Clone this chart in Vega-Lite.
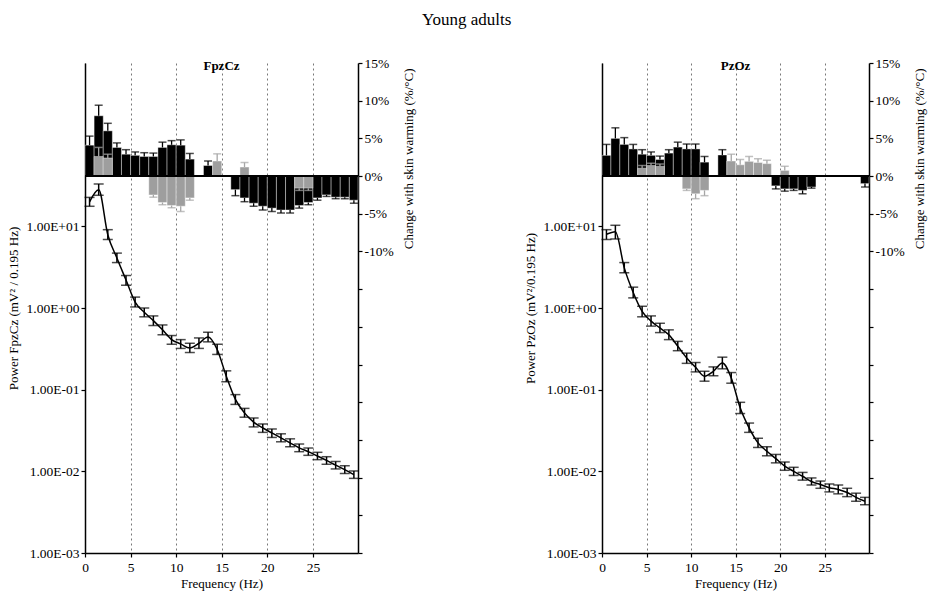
{
  "$schema": "https://vega.github.io/schema/vega-lite/v6.json",
  "padding": {"left": 7, "top": 11, "right": 2, "bottom": 2},
  "title": {"text": "Young adults", "font": "Liberation Serif", "fontSize": 17, "fontWeight": "normal", "color": "black", "anchor": "middle", "offset": 27},
  "spacing": 108,
  "config": {
    "view": {"stroke": null},
    "font": "Liberation Serif",
    "axis": {"labelFont": "Liberation Serif", "titleFont": "Liberation Serif", "labelFontSize": 13.5, "titleFontSize": 13, "titleFontWeight": "normal", "labelColor": "black", "titleColor": "black", "domainColor": "black", "tickColor": "black", "domainWidth": 1.5, "tickWidth": 1.2, "tickSize": 4, "grid": false, "labelOverlap": false, "labelFlush": false},
    "title": {"font": "Liberation Serif", "color": "black"}
  },
  "datasets": {
    "powerF": [
      {"f":0.5,"p":19.9,"lo":17.6,"hi":22.6},{"f":1.5,"p":28,"lo":24,"hi":33},{"f":2.5,"p":7.9,"lo":6.9,"hi":9.1},{"f":3.5,"p":4.1,"lo":3.6,"hi":4.7},{"f":4.5,"p":2.2,"lo":1.9,"hi":2.5},{"f":5.5,"p":1.18,"lo":1.03,"hi":1.36},{"f":6.5,"p":0.885,"lo":0.78,"hi":1.0},{"f":7.5,"p":0.7,"lo":0.61,"hi":0.8},{"f":8.5,"p":0.54,"lo":0.47,"hi":0.62},{"f":9.5,"p":0.41,"lo":0.36,"hi":0.46},{"f":10.5,"p":0.363,"lo":0.32,"hi":0.41},{"f":11.5,"p":0.324,"lo":0.285,"hi":0.37},{"f":12.5,"p":0.37,"lo":0.32,"hi":0.43},{"f":13.5,"p":0.44,"lo":0.385,"hi":0.505},{"f":14.5,"p":0.31,"lo":0.27,"hi":0.36},{"f":15.5,"p":0.146,"lo":0.125,"hi":0.17},{"f":16.5,"p":0.076,"lo":0.066,"hi":0.087},{"f":17.5,"p":0.052,"lo":0.046,"hi":0.059},{"f":18.5,"p":0.04,"lo":0.035,"hi":0.045},{"f":19.5,"p":0.034,"lo":0.03,"hi":0.038},{"f":20.5,"p":0.0295,"lo":0.026,"hi":0.033},{"f":21.5,"p":0.0257,"lo":0.023,"hi":0.0288},{"f":22.5,"p":0.0223,"lo":0.02,"hi":0.025},{"f":23.5,"p":0.0194,"lo":0.0174,"hi":0.0216},{"f":24.5,"p":0.0174,"lo":0.0157,"hi":0.0193},{"f":25.5,"p":0.0154,"lo":0.0139,"hi":0.0171},{"f":26.5,"p":0.0136,"lo":0.0122,"hi":0.0151},{"f":27.5,"p":0.0119,"lo":0.0107,"hi":0.0132},{"f":28.5,"p":0.0105,"lo":0.0094,"hi":0.0117},{"f":29.5,"p":0.0091,"lo":0.0082,"hi":0.0101}
    ],
    "powerP": [
      {"f":0.5,"p":8.0,"lo":6.9,"hi":9.1},{"f":1.5,"p":8.6,"lo":7.0,"hi":10.3},{"f":2.5,"p":3.1,"lo":2.7,"hi":3.6},{"f":3.5,"p":1.55,"lo":1.33,"hi":1.8},{"f":4.5,"p":0.91,"lo":0.78,"hi":1.05},{"f":5.5,"p":0.69,"lo":0.6,"hi":0.8},{"f":6.5,"p":0.57,"lo":0.5,"hi":0.65},{"f":7.5,"p":0.47,"lo":0.41,"hi":0.54},{"f":8.5,"p":0.34,"lo":0.3,"hi":0.39},{"f":9.5,"p":0.244,"lo":0.21,"hi":0.28},{"f":10.5,"p":0.188,"lo":0.165,"hi":0.215},{"f":11.5,"p":0.146,"lo":0.127,"hi":0.168},{"f":12.5,"p":0.168,"lo":0.148,"hi":0.19},{"f":13.5,"p":0.212,"lo":0.18,"hi":0.25},{"f":14.5,"p":0.139,"lo":0.12,"hi":0.162},{"f":15.5,"p":0.06,"lo":0.051,"hi":0.07},{"f":16.5,"p":0.034,"lo":0.03,"hi":0.039},{"f":17.5,"p":0.0223,"lo":0.0196,"hi":0.0254},{"f":18.5,"p":0.0176,"lo":0.0155,"hi":0.02},{"f":19.5,"p":0.0143,"lo":0.0127,"hi":0.0161},{"f":20.5,"p":0.0116,"lo":0.0103,"hi":0.013},{"f":21.5,"p":0.01,"lo":0.0089,"hi":0.0112},{"f":22.5,"p":0.0087,"lo":0.0078,"hi":0.0097},{"f":23.5,"p":0.0075,"lo":0.0068,"hi":0.0083},{"f":24.5,"p":0.0069,"lo":0.0062,"hi":0.0076},{"f":25.5,"p":0.0063,"lo":0.0056,"hi":0.007},{"f":26.5,"p":0.006,"lo":0.0053,"hi":0.0068},{"f":27.5,"p":0.0055,"lo":0.0049,"hi":0.0062},{"f":28.5,"p":0.0048,"lo":0.0043,"hi":0.0054},{"f":29.5,"p":0.0043,"lo":0.0039,"hi":0.0048}
    ],
    "barsF": [
      {"s":"k","f0":0,"f1":1,"f":0.5,"v":4.1,"e":5.3},{"s":"k","f0":1,"f1":2,"f":1.5,"v":8.0,"e":9.4},{"s":"k","f0":2,"f1":3,"f":2.5,"v":6.0,"e":7.0},{"s":"k","f0":3,"f1":4,"f":3.5,"v":3.8,"e":4.4},{"s":"k","f0":4,"f1":5,"f":4.5,"v":2.9,"e":3.5},{"s":"k","f0":5,"f1":6,"f":5.5,"v":2.75,"e":3.2},{"s":"k","f0":6,"f1":7,"f":6.5,"v":2.6,"e":3.1},{"s":"k","f0":7,"f1":8,"f":7.5,"v":2.6,"e":3.05},{"s":"k","f0":8,"f1":9,"f":8.5,"v":3.8,"e":4.5},{"s":"k","f0":9,"f1":10,"f":9.5,"v":4.15,"e":4.7},{"s":"k","f0":10,"f1":11,"f":10.5,"v":4.1,"e":4.8},{"s":"k","f0":11,"f1":12,"f":11.5,"v":2.25,"e":3.0},{"s":"k","f0":13,"f1":14,"f":13.5,"v":1.4,"e":2.0},{"s":"k","f0":16,"f1":17,"f":16.5,"v":-1.8,"e":-2.6},{"s":"k","f0":17,"f1":18,"f":17.5,"v":-2.9,"e":-3.4},{"s":"k","f0":18,"f1":19,"f":18.5,"v":-3.6,"e":-4.0},{"s":"k","f0":19,"f1":20,"f":19.5,"v":-4.0,"e":-4.5},{"s":"k","f0":20,"f1":21,"f":20.5,"v":-4.25,"e":-4.7},{"s":"k","f0":21,"f1":22,"f":21.5,"v":-4.5,"e":-4.9},{"s":"k","f0":22,"f1":23,"f":22.5,"v":-4.5,"e":-4.9},{"s":"k","f0":23,"f1":24,"f":23.5,"v":-3.9,"e":-4.25},{"s":"k","f0":24,"f1":25,"f":24.5,"v":-3.5,"e":-3.8},{"s":"k","f0":25,"f1":26,"f":25.5,"v":-2.9,"e":-3.2},{"s":"k","f0":26,"f1":27,"f":26.5,"v":-2.5,"e":-2.7},{"s":"k","f0":27,"f1":28,"f":27.5,"v":-2.8,"e":-3.0},{"s":"k","f0":28,"f1":29,"f":28.5,"v":-2.8,"e":-3.0},{"s":"k","f0":29,"f1":29.95,"f":29.5,"v":-3.2,"e":-3.6},
      {"s":"g","f0":1,"f1":2,"f":1.5,"v":2.6,"e":3.8},{"s":"g","f0":2,"f1":3,"f":2.5,"v":2.4,"e":2.9},{"s":"g","f0":7,"f1":8,"f":7.5,"v":-2.5,"e":-2.8},{"s":"g","f0":8,"f1":9,"f":8.5,"v":-3.5,"e":-3.8},{"s":"g","f0":9,"f1":10,"f":9.5,"v":-3.9,"e":-4.2},{"s":"g","f0":10,"f1":11,"f":10.5,"v":-4.0,"e":-4.7},{"s":"g","f0":11,"f1":12,"f":11.5,"v":-2.9,"e":-3.2},{"s":"g","f0":14,"f1":15,"f":14.5,"v":2.0,"e":2.95},{"s":"g","f0":17,"f1":18,"f":17.5,"v":1.2,"e":1.8},{"s":"g","f0":23,"f1":24,"f":23.5,"v":-1.6,"e":-1.9},{"s":"g","f0":24,"f1":25,"f":24.5,"v":-1.6,"e":-1.9}
    ],
    "barsP": [
      {"s":"k","f0":0,"f1":1,"f":0.5,"v":2.75,"e":4.2},{"s":"k","f0":1,"f1":2,"f":1.5,"v":5.0,"e":6.4},{"s":"k","f0":2,"f1":3,"f":2.5,"v":4.2,"e":5.1},{"s":"k","f0":3,"f1":4,"f":3.5,"v":3.6,"e":4.2},{"s":"k","f0":4,"f1":5,"f":4.5,"v":2.9,"e":3.5},{"s":"k","f0":5,"f1":6,"f":5.5,"v":2.75,"e":3.2},{"s":"k","f0":6,"f1":7,"f":6.5,"v":2.2,"e":2.65},{"s":"k","f0":7,"f1":8,"f":7.5,"v":3.05,"e":3.5},{"s":"k","f0":8,"f1":9,"f":8.5,"v":3.85,"e":4.5},{"s":"k","f0":9,"f1":10,"f":9.5,"v":3.6,"e":4.25},{"s":"k","f0":10,"f1":11,"f":10.5,"v":3.6,"e":4.25},{"s":"k","f0":11,"f1":12,"f":11.5,"v":1.85,"e":2.6},{"s":"k","f0":13,"f1":14,"f":13.5,"v":2.8,"e":3.5},{"s":"k","f0":19,"f1":20,"f":19.5,"v":-1.3,"e":-1.7},{"s":"k","f0":20,"f1":21,"f":20.5,"v":-1.7,"e":-2.0},{"s":"k","f0":21,"f1":22,"f":21.5,"v":-1.7,"e":-1.9},{"s":"k","f0":22,"f1":23,"f":22.5,"v":-1.9,"e":-2.35},{"s":"k","f0":23,"f1":24,"f":23.5,"v":-1.45,"e":-1.6},{"s":"k","f0":29,"f1":29.95,"f":29.5,"v":-1.0,"e":-1.45},
      {"s":"g","f0":4,"f1":5,"f":4.5,"v":1.05,"e":1.4},{"s":"g","f0":5,"f1":6,"f":5.5,"v":1.4,"e":1.7},{"s":"g","f0":6,"f1":7,"f":6.5,"v":1.3,"e":1.6},{"s":"g","f0":9,"f1":10,"f":9.5,"v":-1.7,"e":-1.9},{"s":"g","f0":10,"f1":11,"f":10.5,"v":-2.35,"e":-3.0},{"s":"g","f0":11,"f1":12,"f":11.5,"v":-1.9,"e":-2.6},{"s":"g","f0":14,"f1":15,"f":14.5,"v":2.0,"e":2.9},{"s":"g","f0":15,"f1":16,"f":15.5,"v":1.5,"e":2.2},{"s":"g","f0":16,"f1":17,"f":16.5,"v":1.95,"e":2.6},{"s":"g","f0":17,"f1":18,"f":17.5,"v":1.8,"e":2.3},{"s":"g","f0":18,"f1":19,"f":18.5,"v":1.65,"e":2.1},{"s":"g","f0":20,"f1":21,"f":20.5,"v":0.75,"e":1.3}
    ]
  },
  "hconcat": [
    {
      "width": 273, "height": 490,
      "title": {"text": "FpzCz", "fontSize": 13, "fontWeight": "bold", "offset": -17},
      "layer": [
        {
          "data": {"name": "powerF"},
          "encoding": {"x": {"field": "f", "type": "quantitative", "scale": {"domain": [0, 29.95], "nice": false, "zero": false}, "axis": {"title": "Frequency (Hz)", "values": [0,5,10,15,20,25], "grid": true, "gridDash": [2,3], "gridColor": "#555555", "gridWidth": 0.8, "labelPadding": 3, "titlePadding": 4}}},
          "layer": [
            {"mark": {"type": "line", "interpolate": "monotone", "color": "black", "strokeWidth": 1.5},
             "encoding": {"y": {"field": "p", "type": "quantitative", "scale": {"type": "log", "domain": [0.001, 1000], "nice": false}, "axis": {"orient": "left", "title": "Power FpzCz (mV² / 0.195 Hz)", "values": [0.001, 0.01, 0.1, 1, 10], "labelExpr": "'1.00E' + (datum.value >= 1 ? '+' : '-') + '0' + abs(round(log(datum.value)/LN10))", "titlePadding": 6}}}},
            {"mark": {"type": "rule", "color": "black", "strokeWidth": 1.5},
             "encoding": {"y": {"field": "lo", "type": "quantitative", "axis": {"orient": "left", "title": "Power FpzCz (mV² / 0.195 Hz)", "values": [0.001, 0.01, 0.1, 1, 10], "labelExpr": "'1.00E' + (datum.value >= 1 ? '+' : '-') + '0' + abs(round(log(datum.value)/LN10))", "titlePadding": 6}}, "y2": {"field": "hi"}}},
            {"mark": {"type": "tick", "orient": "horizontal", "color": "black", "size": 10, "thickness": 1.5},
             "encoding": {"y": {"field": "lo", "type": "quantitative", "axis": {"orient": "left", "title": "Power FpzCz (mV² / 0.195 Hz)", "values": [0.001, 0.01, 0.1, 1, 10], "labelExpr": "'1.00E' + (datum.value >= 1 ? '+' : '-') + '0' + abs(round(log(datum.value)/LN10))", "titlePadding": 6}}}},
            {"mark": {"type": "tick", "orient": "horizontal", "color": "black", "size": 10, "thickness": 1.5},
             "encoding": {"y": {"field": "hi", "type": "quantitative", "axis": {"orient": "left", "title": "Power FpzCz (mV² / 0.195 Hz)", "values": [0.001, 0.01, 0.1, 1, 10], "labelExpr": "'1.00E' + (datum.value >= 1 ? '+' : '-') + '0' + abs(round(log(datum.value)/LN10))", "titlePadding": 6}}}}
          ]
        },
        {
          "data": {"name": "barsF"},
          "layer": [
            {"transform": [{"filter": "datum.s == 'k'"}], "mark": {"type": "bar", "color": "black", "stroke": "#ffffff", "strokeWidth": 0.4},
             "encoding": {"x": {"field": "f0", "type": "quantitative", "axis": {"title": "Frequency (Hz)"}}, "x2": {"field": "f1"}, "y": {"field": "v", "type": "quantitative", "scale": {"domain": [-50, 15], "nice": false}, "axis": {"orient": "right", "title": "Change with skin warming (%/°C)", "values": [-50,-45,-40,-35,-30,-25,-20,-15,-10,-5,0,5,10,15], "labelExpr": "datum.value >= -10 ? datum.value + '%' : ''", "titleAngle": -90, "titleAlign": "right", "titleBaseline": "top", "titleY": 5, "titlePadding": 9}}, "y2": {"datum": 0}}},
            {"transform": [{"filter": "datum.s == 'k'"}], "mark": {"type": "rule", "color": "black", "strokeWidth": 1.3},
             "encoding": {"x": {"field": "f", "type": "quantitative", "axis": {"title": "Frequency (Hz)"}}, "y": {"field": "v", "type": "quantitative", "axis": {"orient": "right", "title": "Change with skin warming (%/°C)", "values": [-50,-45,-40,-35,-30,-25,-20,-15,-10,-5,0,5,10,15], "labelExpr": "datum.value >= -10 ? datum.value + '%' : ''", "titleAngle": -90, "titleAlign": "right", "titleBaseline": "top", "titleY": 5, "titlePadding": 9}}, "y2": {"field": "e"}}},
            {"transform": [{"filter": "datum.s == 'k'"}], "mark": {"type": "tick", "orient": "horizontal", "color": "black", "size": 8, "thickness": 1.5},
             "encoding": {"x": {"field": "f", "type": "quantitative", "axis": {"title": "Frequency (Hz)"}}, "y": {"field": "e", "type": "quantitative", "axis": {"orient": "right", "title": "Change with skin warming (%/°C)", "values": [-50,-45,-40,-35,-30,-25,-20,-15,-10,-5,0,5,10,15], "labelExpr": "datum.value >= -10 ? datum.value + '%' : ''", "titleAngle": -90, "titleAlign": "right", "titleBaseline": "top", "titleY": 5, "titlePadding": 9}}}},
            {"transform": [{"filter": "datum.s == 'g'"}], "mark": {"type": "bar", "color": "#9e9e9e", "stroke": "#ffffff", "strokeWidth": 0.4},
             "encoding": {"x": {"field": "f0", "type": "quantitative", "axis": {"title": "Frequency (Hz)"}}, "x2": {"field": "f1"}, "y": {"field": "v", "type": "quantitative", "axis": {"orient": "right", "title": "Change with skin warming (%/°C)", "values": [-50,-45,-40,-35,-30,-25,-20,-15,-10,-5,0,5,10,15], "labelExpr": "datum.value >= -10 ? datum.value + '%' : ''", "titleAngle": -90, "titleAlign": "right", "titleBaseline": "top", "titleY": 5, "titlePadding": 9}}, "y2": {"datum": 0}}},
            {"transform": [{"filter": "datum.s == 'g'"}], "mark": {"type": "rule", "color": "#a6a6a6", "strokeWidth": 1.3},
             "encoding": {"x": {"field": "f", "type": "quantitative", "axis": {"title": "Frequency (Hz)"}}, "y": {"field": "v", "type": "quantitative", "axis": {"orient": "right", "title": "Change with skin warming (%/°C)", "values": [-50,-45,-40,-35,-30,-25,-20,-15,-10,-5,0,5,10,15], "labelExpr": "datum.value >= -10 ? datum.value + '%' : ''", "titleAngle": -90, "titleAlign": "right", "titleBaseline": "top", "titleY": 5, "titlePadding": 9}}, "y2": {"field": "e"}}},
            {"transform": [{"filter": "datum.s == 'g'"}], "mark": {"type": "tick", "orient": "horizontal", "color": "#a6a6a6", "size": 8, "thickness": 1.5},
             "encoding": {"x": {"field": "f", "type": "quantitative", "axis": {"title": "Frequency (Hz)"}}, "y": {"field": "e", "type": "quantitative", "axis": {"orient": "right", "title": "Change with skin warming (%/°C)", "values": [-50,-45,-40,-35,-30,-25,-20,-15,-10,-5,0,5,10,15], "labelExpr": "datum.value >= -10 ? datum.value + '%' : ''", "titleAngle": -90, "titleAlign": "right", "titleBaseline": "top", "titleY": 5, "titlePadding": 9}}}},
            {"mark": {"type": "rule", "color": "black", "strokeWidth": 1.5},
             "encoding": {"y": {"datum": 0, "type": "quantitative", "axis": {"orient": "right", "title": "Change with skin warming (%/°C)", "values": [-50,-45,-40,-35,-30,-25,-20,-15,-10,-5,0,5,10,15], "labelExpr": "datum.value >= -10 ? datum.value + '%' : ''", "titleAngle": -90, "titleAlign": "right", "titleBaseline": "top", "titleY": 5, "titlePadding": 9}}}}
          ]
        }
      ],
      "resolve": {"scale": {"y": "independent"}}
    },
    {
      "width": 267, "height": 490,
      "title": {"text": "PzOz", "fontSize": 13, "fontWeight": "bold", "offset": -17},
      "layer": [
        {
          "data": {"name": "powerP"},
          "encoding": {"x": {"field": "f", "type": "quantitative", "scale": {"domain": [0, 29.95], "nice": false, "zero": false}, "axis": {"title": "Frequency (Hz)", "values": [0,5,10,15,20,25], "grid": true, "gridDash": [2,3], "gridColor": "#555555", "gridWidth": 0.8, "labelPadding": 3, "titlePadding": 4}}},
          "layer": [
            {"mark": {"type": "line", "interpolate": "monotone", "color": "black", "strokeWidth": 1.5},
             "encoding": {"y": {"field": "p", "type": "quantitative", "scale": {"type": "log", "domain": [0.001, 1000], "nice": false}, "axis": {"orient": "left", "title": "Power PzOz (mV²/0.195 Hz)", "values": [0.001, 0.01, 0.1, 1, 10], "labelExpr": "'1.00E' + (datum.value >= 1 ? '+' : '-') + '0' + abs(round(log(datum.value)/LN10))", "titlePadding": 6}}}},
            {"mark": {"type": "rule", "color": "black", "strokeWidth": 1.5},
             "encoding": {"y": {"field": "lo", "type": "quantitative", "axis": {"orient": "left", "title": "Power PzOz (mV²/0.195 Hz)", "values": [0.001, 0.01, 0.1, 1, 10], "labelExpr": "'1.00E' + (datum.value >= 1 ? '+' : '-') + '0' + abs(round(log(datum.value)/LN10))", "titlePadding": 6}}, "y2": {"field": "hi"}}},
            {"mark": {"type": "tick", "orient": "horizontal", "color": "black", "size": 10, "thickness": 1.5},
             "encoding": {"y": {"field": "lo", "type": "quantitative", "axis": {"orient": "left", "title": "Power PzOz (mV²/0.195 Hz)", "values": [0.001, 0.01, 0.1, 1, 10], "labelExpr": "'1.00E' + (datum.value >= 1 ? '+' : '-') + '0' + abs(round(log(datum.value)/LN10))", "titlePadding": 6}}}},
            {"mark": {"type": "tick", "orient": "horizontal", "color": "black", "size": 10, "thickness": 1.5},
             "encoding": {"y": {"field": "hi", "type": "quantitative", "axis": {"orient": "left", "title": "Power PzOz (mV²/0.195 Hz)", "values": [0.001, 0.01, 0.1, 1, 10], "labelExpr": "'1.00E' + (datum.value >= 1 ? '+' : '-') + '0' + abs(round(log(datum.value)/LN10))", "titlePadding": 6}}}}
          ]
        },
        {
          "data": {"name": "barsP"},
          "layer": [
            {"transform": [{"filter": "datum.s == 'k'"}], "mark": {"type": "bar", "color": "black", "stroke": "#ffffff", "strokeWidth": 0.4},
             "encoding": {"x": {"field": "f0", "type": "quantitative", "axis": {"title": "Frequency (Hz)"}}, "x2": {"field": "f1"}, "y": {"field": "v", "type": "quantitative", "scale": {"domain": [-50, 15], "nice": false}, "axis": {"orient": "right", "title": "Change with skin warming (%/°C)", "values": [-50,-45,-40,-35,-30,-25,-20,-15,-10,-5,0,5,10,15], "labelExpr": "datum.value >= -10 ? datum.value + '%' : ''", "titleAngle": -90, "titleAlign": "right", "titleBaseline": "top", "titleY": 5, "titlePadding": 9}}, "y2": {"datum": 0}}},
            {"transform": [{"filter": "datum.s == 'k'"}], "mark": {"type": "rule", "color": "black", "strokeWidth": 1.3},
             "encoding": {"x": {"field": "f", "type": "quantitative", "axis": {"title": "Frequency (Hz)"}}, "y": {"field": "v", "type": "quantitative", "axis": {"orient": "right", "title": "Change with skin warming (%/°C)", "values": [-50,-45,-40,-35,-30,-25,-20,-15,-10,-5,0,5,10,15], "labelExpr": "datum.value >= -10 ? datum.value + '%' : ''", "titleAngle": -90, "titleAlign": "right", "titleBaseline": "top", "titleY": 5, "titlePadding": 9}}, "y2": {"field": "e"}}},
            {"transform": [{"filter": "datum.s == 'k'"}], "mark": {"type": "tick", "orient": "horizontal", "color": "black", "size": 8, "thickness": 1.5},
             "encoding": {"x": {"field": "f", "type": "quantitative", "axis": {"title": "Frequency (Hz)"}}, "y": {"field": "e", "type": "quantitative", "axis": {"orient": "right", "title": "Change with skin warming (%/°C)", "values": [-50,-45,-40,-35,-30,-25,-20,-15,-10,-5,0,5,10,15], "labelExpr": "datum.value >= -10 ? datum.value + '%' : ''", "titleAngle": -90, "titleAlign": "right", "titleBaseline": "top", "titleY": 5, "titlePadding": 9}}}},
            {"transform": [{"filter": "datum.s == 'g'"}], "mark": {"type": "bar", "color": "#9e9e9e", "stroke": "#ffffff", "strokeWidth": 0.4},
             "encoding": {"x": {"field": "f0", "type": "quantitative", "axis": {"title": "Frequency (Hz)"}}, "x2": {"field": "f1"}, "y": {"field": "v", "type": "quantitative", "axis": {"orient": "right", "title": "Change with skin warming (%/°C)", "values": [-50,-45,-40,-35,-30,-25,-20,-15,-10,-5,0,5,10,15], "labelExpr": "datum.value >= -10 ? datum.value + '%' : ''", "titleAngle": -90, "titleAlign": "right", "titleBaseline": "top", "titleY": 5, "titlePadding": 9}}, "y2": {"datum": 0}}},
            {"transform": [{"filter": "datum.s == 'g'"}], "mark": {"type": "rule", "color": "#a6a6a6", "strokeWidth": 1.3},
             "encoding": {"x": {"field": "f", "type": "quantitative", "axis": {"title": "Frequency (Hz)"}}, "y": {"field": "v", "type": "quantitative", "axis": {"orient": "right", "title": "Change with skin warming (%/°C)", "values": [-50,-45,-40,-35,-30,-25,-20,-15,-10,-5,0,5,10,15], "labelExpr": "datum.value >= -10 ? datum.value + '%' : ''", "titleAngle": -90, "titleAlign": "right", "titleBaseline": "top", "titleY": 5, "titlePadding": 9}}, "y2": {"field": "e"}}},
            {"transform": [{"filter": "datum.s == 'g'"}], "mark": {"type": "tick", "orient": "horizontal", "color": "#a6a6a6", "size": 8, "thickness": 1.5},
             "encoding": {"x": {"field": "f", "type": "quantitative", "axis": {"title": "Frequency (Hz)"}}, "y": {"field": "e", "type": "quantitative", "axis": {"orient": "right", "title": "Change with skin warming (%/°C)", "values": [-50,-45,-40,-35,-30,-25,-20,-15,-10,-5,0,5,10,15], "labelExpr": "datum.value >= -10 ? datum.value + '%' : ''", "titleAngle": -90, "titleAlign": "right", "titleBaseline": "top", "titleY": 5, "titlePadding": 9}}}},
            {"mark": {"type": "rule", "color": "black", "strokeWidth": 1.5},
             "encoding": {"y": {"datum": 0, "type": "quantitative", "axis": {"orient": "right", "title": "Change with skin warming (%/°C)", "values": [-50,-45,-40,-35,-30,-25,-20,-15,-10,-5,0,5,10,15], "labelExpr": "datum.value >= -10 ? datum.value + '%' : ''", "titleAngle": -90, "titleAlign": "right", "titleBaseline": "top", "titleY": 5, "titlePadding": 9}}}}
          ]
        }
      ],
      "resolve": {"scale": {"y": "independent"}}
    }
  ]
}
